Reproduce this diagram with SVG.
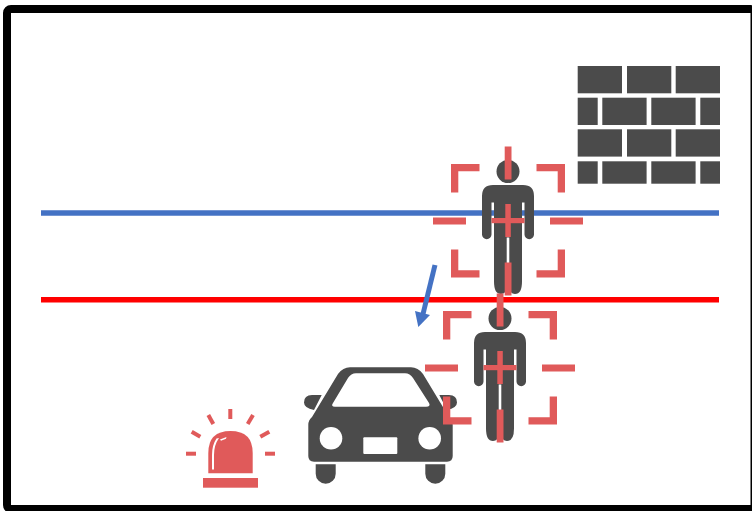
<svg xmlns="http://www.w3.org/2000/svg" width="752" height="511" viewBox="0 0 752 511">
  <style>
    .dark { fill: #4b4b4b; }
    .mark { fill: #e05a5a; }
    .white { fill: #ffffff; }
    .line { fill: none; stroke-width: 5.500; }
  </style>
  <defs>
    <g id="person">
      <circle class="dark" cx="0" cy="0" r="11.500"/>
      <path class="dark" d="M-15 13.500H15Q26 13.500 26 24.500V63A4.750 4.750 0 0 1 16.500 63V31H14V110Q14 122.500 7 122.500Q1.500 122.500 1.300 116V66H-1.300V116Q-1.500 122.500 -7 122.500Q-14 122.500 -14 110V31H-16.500V63A4.750 4.750 0 0 1 -26 63V24.500Q-26 13.500 -15 13.500Z"/>
    </g>
    <g id="reticle">
      <path class="mark" d="M-57 -7.500H-28.500V-0.300H-49.700V21H-57Z"/>
      <path class="mark" d="M57 -7.500H28.500V-0.300H49.700V21H57Z"/>
      <path class="mark" d="M-57 106H-28.500V98.800H-49.700V78H-57Z"/>
      <path class="mark" d="M57 106H28.500V98.800H49.700V78H57Z"/>
      <rect class="mark" x="-75" y="46" width="33" height="7"/>
      <rect class="mark" x="42" y="46" width="33" height="7"/>
      <rect class="mark" x="-3.300" y="-25" width="6.800" height="33"/>
      <rect class="mark" x="-3.300" y="91" width="6.800" height="33"/>
      <rect class="mark" x="-2.700" y="32.500" width="5.500" height="33"/>
      <rect class="mark" x="-16.500" y="46.500" width="33" height="5.200"/>
    </g>
  </defs>

  <rect id="frame" x="7" y="9" width="747.500" height="500" rx="4" fill="#ffffff" stroke="#000000" stroke-width="8"/>

  <g id="connectors">
    <line class="line" x1="41" y1="213" x2="719" y2="213" stroke="#4472c4"/>
    <line class="line" x1="41" y1="299.700" x2="719" y2="299.700" stroke="#ff0000"/>
    <line x1="435" y1="265" x2="423" y2="314" stroke="#4472c4" stroke-width="5"/>
    <path d="M418.300 327L415 311L430 315Z" fill="#4472c4"/>
  </g>

  <g id="wall">
    <rect class="dark" x="577.700" y="66" width="44.300" height="27.300"/>
    <rect class="dark" x="627" y="66" width="44.300" height="27.300"/>
    <rect class="dark" x="675.700" y="66" width="44.300" height="27.300"/>
    <rect class="dark" x="577.700" y="97.700" width="20" height="27.300"/>
    <rect class="dark" x="602.300" y="97.700" width="44.300" height="27.300"/>
    <rect class="dark" x="651.300" y="97.700" width="44.300" height="27.300"/>
    <rect class="dark" x="700.300" y="97.700" width="19.700" height="27.300"/>
    <rect class="dark" x="577.700" y="129.300" width="44.300" height="27.300"/>
    <rect class="dark" x="627" y="129.300" width="44.300" height="27.300"/>
    <rect class="dark" x="675.700" y="129.300" width="44.300" height="27.300"/>
    <rect class="dark" x="577.700" y="161.300" width="20" height="22.400"/>
    <rect class="dark" x="602.300" y="161.300" width="44.300" height="22.400"/>
    <rect class="dark" x="651.300" y="161.300" width="44.300" height="22.400"/>
    <rect class="dark" x="700.300" y="161.300" width="19.700" height="22.400"/>
  </g>

  <g id="person-upper" transform="translate(508 171.500)">
    <use href="#person"/>
    <use href="#reticle"/>
  </g>

  <g id="car">
    <path class="dark" d="M321.700 395L314 410Q304 408 304 402.500Q304 395 312 395ZM439.300 395L447 410Q457 408 457 402.500Q457 395 449 395Z"/>
    <path class="dark" d="M350 367.300H411Q418 367.300 423 374L449 417Q452.700 420 452.700 425V456Q452.700 461.700 447 461.700H314Q308.300 461.700 308.300 456V425Q308.300 420 312 417L338 374Q343 367.300 350 367.300Z"/>
    <path class="white" d="M356 373.300H405Q410 373.300 413 378L429 403Q431 406.700 426 406.700H335Q330.500 406.700 333 403L348 378Q351 373.300 356 373.300Z"/>
    <circle class="white" cx="331" cy="438.300" r="11.300"/>
    <circle class="white" cx="429.700" cy="438.300" r="11.300"/>
    <rect class="white" x="363.300" y="437.300" width="34" height="16.700" rx="1"/>
    <path class="dark" d="M315.700 464.300H335.700V473.700A10 10 0 0 1 315.700 473.700ZM425.300 464.300H445.300V473.700A10 10 0 0 1 425.300 473.700Z"/>
  </g>

  <g id="person-lower" transform="translate(500 318.500)">
    <use href="#person"/>
    <use href="#reticle"/>
  </g>

  <g id="alarm">
    <path class="mark" d="M208.300 473.300V453Q208.300 431 230.500 431Q252.700 431 252.700 453V473.300Z"/>
    <path class="white" d="M212 469.500H214V455Q214 445 219 438L216.500 438.500Q212 445 212 455Z"/>
    <path class="white" d="M220 439.500L226.500 437L226 438.700L221 440.700Z"/>
    <rect class="mark" x="203" y="478" width="55" height="9.700"/>
    <g fill="none" stroke="#e05a5a" stroke-width="4">
      <line x1="230.300" y1="409" x2="230.300" y2="419"/>
      <line x1="208.300" y1="415" x2="213.300" y2="424"/>
      <line x1="253" y1="415" x2="247.700" y2="424"/>
      <line x1="191.700" y1="431.700" x2="200.300" y2="436.700"/>
      <line x1="269.300" y1="431.700" x2="260.300" y2="436.700"/>
      <line x1="186" y1="453.700" x2="196" y2="453.700"/>
      <line x1="265" y1="453.700" x2="275" y2="453.700"/>
    </g>
  </g>
</svg>
